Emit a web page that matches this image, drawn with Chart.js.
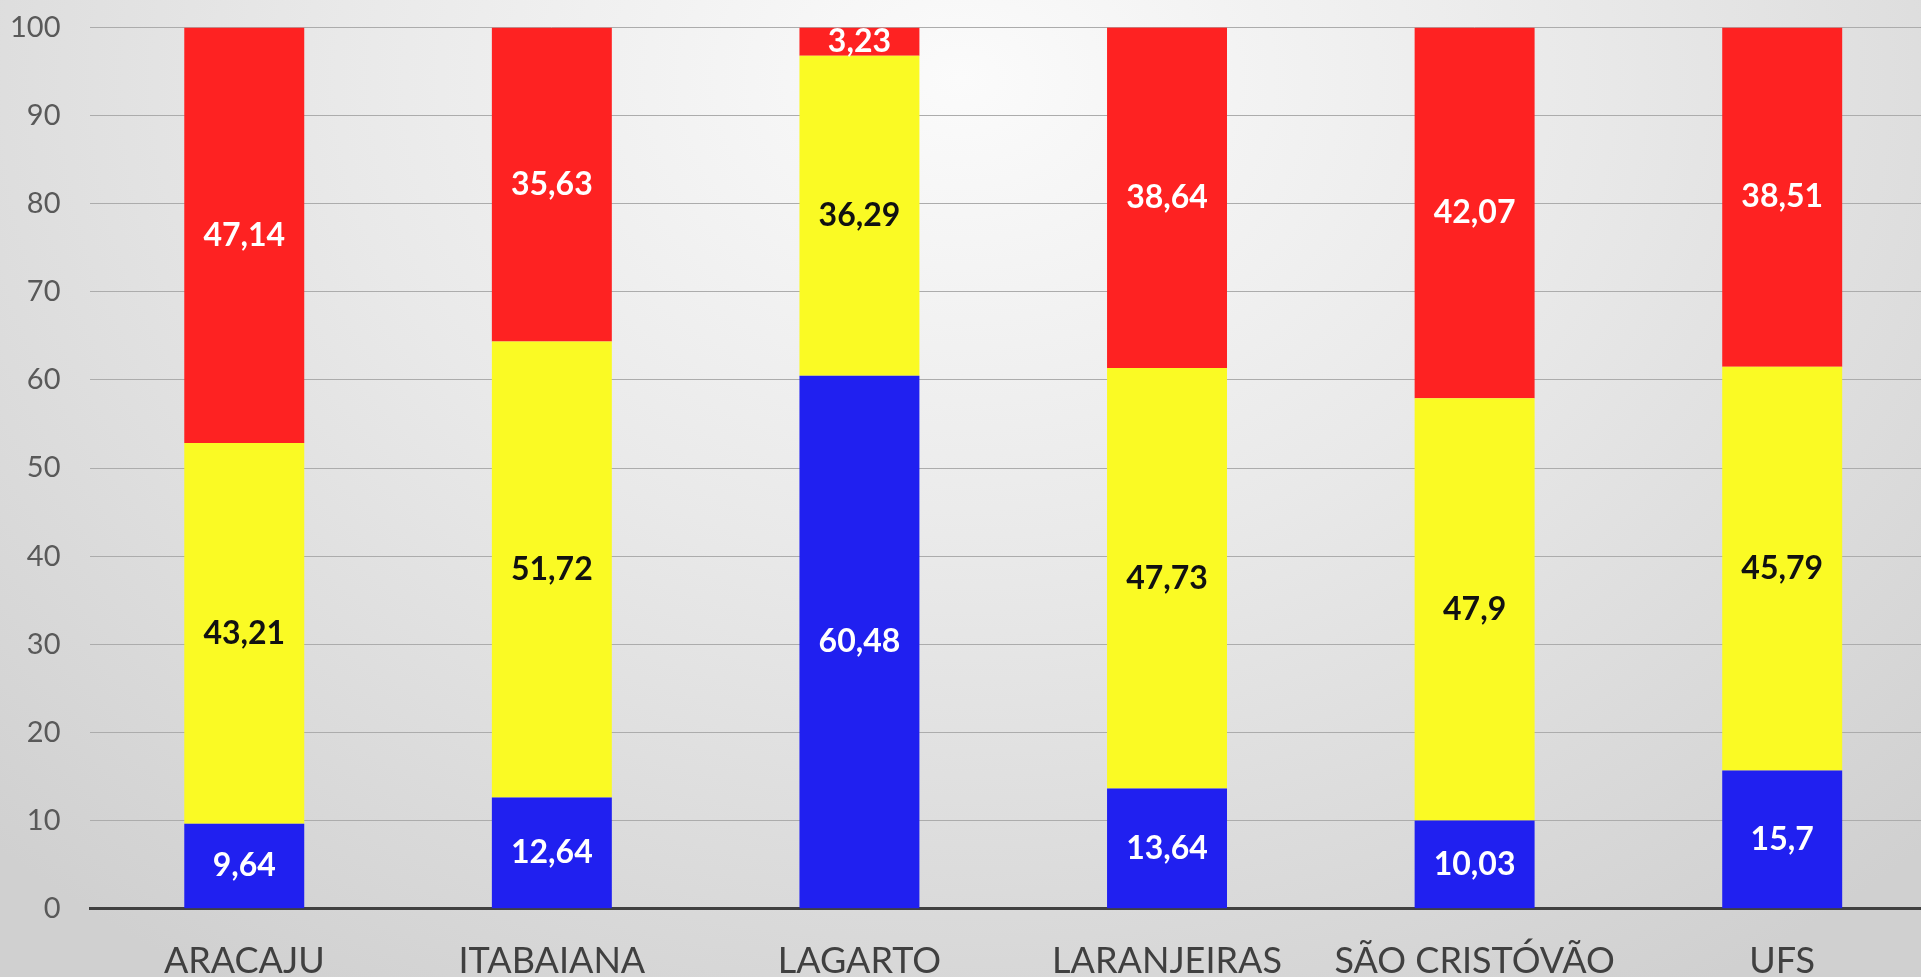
<!DOCTYPE html>
<html><head><meta charset="utf-8">
<script src="https://cdn.jsdelivr.net/npm/chart.js@4/dist/chart.umd.min.js"></script>
<style>
html,body{margin:0;padding:0;overflow:hidden;width:1921px;height:977px;}
body{position:relative;background:radial-gradient(ellipse 72% 110% at 50% 8%, #fbfbfb 0%, #e9e9e9 45%, #d0d0d0 100%);}
#wrap{position:absolute;left:-20px;top:-20px;width:1956px;height:1034px;}
</style></head>
<body>
<div id="wrap"><canvas id="c"></canvas></div>
<script>
const categories = ["ARACAJU","ITABAIANA","LAGARTO","LARANJEIRAS","SÃO CRISTÓVÃO","UFS"];
const blueValues = [9.64, 12.64, 60.48, 13.64, 10.03, 15.7];
const yellowValues = [43.21, 51.72, 36.29, 47.73, 47.9, 45.79];
const redValues = [47.14, 35.63, 3.23, 38.64, 42.07, 38.51];
const yTicks = [0,10,20,30,40,50,60,70,80,90,100];

const labelPlugin = {
  id:'segLabels',
  afterDatasetsDraw(chart){
    const ctx = chart.ctx;
    ctx.save();
    ctx.textAlign='center';
    ctx.textBaseline='middle';
    ctx.font='bold 32px Lato, "Open Sans", sans-serif';
    chart.data.datasets.forEach((ds,i)=>{
      const meta = chart.getDatasetMeta(i);
      meta.data.forEach((el,j)=>{
        const v = ds.data[j];
        if (v==null) return;
        const p = el.getCenterPoint();
        ctx.fillStyle = ds.labelColor;
        ctx.fillText(String(v).replace('.',','), p.x, p.y);
      });
    });
    ctx.restore();
  }
};

new Chart(document.getElementById('c'), {
  type:'bar',
  data:{
    labels:categories,
    datasets:[
      {label:'Azul', data:blueValues, backgroundColor:'rgb(32,32,240)', labelColor:'#ffffff'},
      {label:'Amarelo', data:yellowValues, backgroundColor:'rgb(250,250,36)', labelColor:'#111111'},
      {label:'Vermelho', data:redValues, backgroundColor:'rgb(254,34,34)', labelColor:'#ffffff'}
    ]
  },
  options:{
    responsive:true,
    maintainAspectRatio:false,
    animation:false,
    layout:{padding:{top:12,left:0,right:0,bottom:0}},
    datasets:{bar:{categoryPercentage:1, barPercentage:0.39, borderWidth:0}},
    plugins:{legend:{display:false}, tooltip:{enabled:false}},
    scales:{
      x:{
        stacked:true,
        grid:{display:false, drawTicks:false},
        border:{display:true, color:'#404040', width:3},
        ticks:{color:'#404040', font:{family:'Lato, "Open Sans", sans-serif', size:36}, padding:31, maxRotation:0, autoSkip:false}
      },
      y:{
        stacked:true,
        min:0, max:100,
        afterBuildTicks(scale){ scale.ticks = yTicks.map(v=>({value:v})); },
        grid:{color:'#acacac', lineWidth:1, drawTicks:false},
        border:{display:false},
        ticks:{color:'#595959', font:{family:'Lato, "Open Sans", sans-serif', size:29}, padding:30}
      }
    }
  },
  plugins:[labelPlugin]
});
</script>
</body></html>
